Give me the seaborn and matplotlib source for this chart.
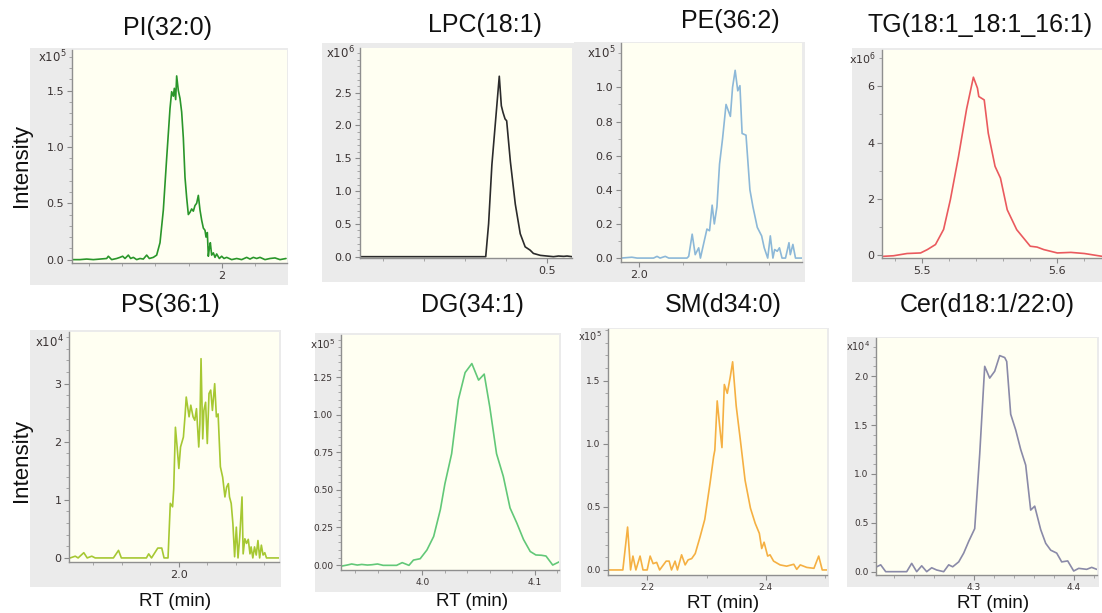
import numpy as np
import pandas as pd
import matplotlib
matplotlib.use("Agg")
import matplotlib.pyplot as plt
from matplotlib.ticker import MultipleLocator, FixedLocator, FormatStrFormatter
import seaborn as sns

# ---------------- data ----------------
titles = ["PI(32:0)", "LPC(18:1)", "PE(36:2)", "TG(18:1_18:1_16:1)",
          "PS(36:1)", "DG(34:1)", "SM(d34:0)", "Cer(d18:1/22:0)"]
exponents = [5, 6, 5, 6, 4, 5, 5, 4]

pi_rt = [1.549, 1.574, 1.594, 1.614, 1.634, 1.654, 1.659, 1.669, 1.684, 1.694, 1.702, 1.709,
         1.719, 1.726, 1.734, 1.744, 1.754, 1.764, 1.774, 1.782, 1.794, 1.804, 1.814, 1.824,
         1.834, 1.844, 1.849, 1.854, 1.857, 1.861, 1.864, 1.869, 1.874, 1.879, 1.884, 1.889,
         1.894, 1.899, 1.904, 1.909, 1.914, 1.919, 1.924, 1.929, 1.934, 1.939, 1.944, 1.949,
         1.952, 1.956, 1.959, 1.962, 1.965, 1.969, 1.974, 1.979, 1.984, 1.992, 1.999, 2.006,
         2.014, 2.029, 2.044, 2.059, 2.074, 2.084, 2.094, 2.104, 2.114, 2.129, 2.144, 2.159,
         2.174, 2.192]
pi_int = [0.0, 0.0, 0.005, 0.0, 0.005, 0.01, 0.03, 0.0, 0.01, 0.02, 0.03, 0.01,
          0.04, 0.01, 0.02, 0.0, 0.01, 0.005, 0.04, 0.01, 0.02, 0.04, 0.15, 0.44,
          0.90, 1.34, 1.49, 1.45, 1.52, 1.42, 1.63, 1.50, 1.43, 1.31, 1.08, 0.73,
          0.55, 0.40, 0.42, 0.45, 0.43, 0.48, 0.50, 0.57, 0.44, 0.35, 0.28, 0.26,
          0.20, 0.24, 0.03, 0.10, 0.15, 0.04, 0.06, 0.02, 0.05, 0.01, 0.03, 0.01,
          0.02, 0.0, 0.01, 0.0, 0.02, 0.005, 0.02, 0.01, 0.02, 0.0, 0.01, 0.015,
          0.0, 0.01]

lpc_rt = [0.045, 0.142, 0.264, 0.350, 0.351, 0.358, 0.366, 0.374, 0.378, 0.384, 0.389,
          0.393, 0.398, 0.402, 0.411, 0.423, 0.435, 0.447, 0.459, 0.467, 0.484, 0.500,
          0.516, 0.528, 0.541, 0.549, 0.561]
lpc_int = [0.0, 0.0, 0.0, 0.0, 0.0, 0.5, 1.4, 2.0, 2.3, 2.75, 2.3,
           2.2, 2.1, 2.07, 1.45, 0.8, 0.35, 0.15, 0.1, 0.05, 0.02, 0.01,
           0.0, 0.01, 0.005, 0.01, 0.0]

pe_rt = [1.958, 1.983, 1.995, 2.033, 2.041, 2.048, 2.060, 2.068, 2.110, 2.114, 2.122,
         2.129, 2.137, 2.141, 2.148, 2.156, 2.162, 2.168, 2.173, 2.179, 2.185, 2.192,
         2.200, 2.210, 2.215, 2.221, 2.227, 2.232, 2.237, 2.246, 2.255, 2.262, 2.272,
         2.282, 2.288, 2.296, 2.302, 2.308, 2.312, 2.318, 2.323, 2.329, 2.337, 2.345,
         2.348, 2.354, 2.360, 2.375]
pe_int = [0.0, 0.005, 0.0, 0.0, 0.01, 0.0, 0.01, 0.0, 0.0, 0.01, 0.14,
          0.02, 0.06, 0.0, 0.08, 0.17, 0.16, 0.31, 0.20, 0.30, 0.55, 0.70,
          0.90, 0.83, 1.00, 1.10, 0.98, 1.01, 0.73, 0.72, 0.40, 0.30, 0.18,
          0.13, 0.06, 0.0, 0.13, 0.0, 0.05, 0.04, 0.06, 0.0, 0.0, 0.09,
          0.02, 0.08, 0.0, 0.0]

tg_rt = [5.4716, 5.479, 5.489, 5.499, 5.504, 5.510, 5.516, 5.521, 5.527, 5.533, 5.538,
         5.541, 5.542, 5.546, 5.549, 5.554, 5.558, 5.563, 5.570, 5.580, 5.585, 5.590,
         5.600, 5.610, 5.620, 5.633]
tg_int = [-0.06, -0.04, 0.04, 0.06, 0.18, 0.36, 0.9, 1.96, 3.5, 5.2, 6.33,
          5.94, 5.64, 5.52, 4.33, 3.15, 2.73, 1.6, 0.89, 0.30, 0.27, 0.18,
          0.06, 0.08, 0.04, -0.06]

ps_rt = [1.809, 1.818, 1.823, 1.833, 1.839, 1.847, 1.853, 1.885, 1.894, 1.899, 1.943,
         1.947, 1.952, 1.963, 1.970, 1.974, 1.981, 1.985, 1.989, 1.991, 1.994, 1.997,
         2.000, 2.003, 2.008, 2.011, 2.013, 2.018, 2.021, 2.025, 2.028, 2.031, 2.035,
         2.037, 2.039, 2.042, 2.044, 2.047, 2.050, 2.053, 2.056, 2.059, 2.063, 2.066,
         2.069, 2.073, 2.077, 2.081, 2.084, 2.087, 2.089, 2.092, 2.095, 2.098, 2.101,
         2.104, 2.107, 2.111, 2.113, 2.116, 2.119, 2.122, 2.125, 2.127, 2.130, 2.133,
         2.136, 2.139, 2.142, 2.145, 2.148, 2.151, 2.154, 2.176]
ps_int = [0.0, 0.03, 0.0, 0.09, 0.0, 0.03, 0.0, 0.0, 0.13, 0.0, 0.0,
          0.07, 0.0, 0.17, 0.17, 0.0, 0.0, 0.94, 0.88, 1.19, 2.25, 1.91,
          1.54, 1.91, 2.08, 2.46, 2.77, 2.43, 2.63, 2.43, 2.37, 2.57, 1.91,
          2.31, 3.43, 2.05, 2.54, 2.68, 1.97, 2.83, 2.89, 2.54, 3.00, 2.43,
          2.48, 1.57, 1.39, 1.05, 1.22, 1.28, 1.05, 0.94, 0.59, 0.02, 0.53,
          0.0, 0.36, 1.05, 0.07, 0.33, 0.25, 0.32, 0.07, 0.19, 0.0, 0.19,
          0.05, 0.30, 0.0, 0.22, 0.05, 0.09, 0.0, 0.0]

dg_rt = [3.928, 3.933, 3.937, 3.942, 3.946, 3.951, 3.955, 3.960, 3.965, 3.971, 3.977,
         3.982, 3.988, 3.992, 3.998, 4.004, 4.010, 4.016, 4.020, 4.026, 4.032, 4.038,
         4.044, 4.050, 4.055, 4.060, 4.066, 4.072, 4.078, 4.084, 4.090, 4.096, 4.101,
         4.106, 4.110, 4.116, 4.122]
dg_int = [-0.007, 0.0, 0.007, 0.0, 0.004, 0.0, 0.002, 0.007, -0.002, -0.002, -0.002,
          0.016, -0.002, 0.033, 0.042, 0.10, 0.19, 0.37, 0.54, 0.74, 1.10, 1.28,
          1.34, 1.23, 1.27, 1.05, 0.74, 0.59, 0.38, 0.28, 0.17, 0.09, 0.067,
          0.065, 0.06, 0.0, 0.022]

sm_rt = [2.134, 2.159, 2.167, 2.172, 2.176, 2.181, 2.188, 2.193, 2.200, 2.205, 2.210,
         2.216, 2.221, 2.232, 2.237, 2.241, 2.247, 2.251, 2.258, 2.264, 2.269, 2.275,
         2.281, 2.289, 2.297, 2.306, 2.312, 2.314, 2.318, 2.323, 2.326, 2.330, 2.335,
         2.340, 2.344, 2.350, 2.357, 2.365, 2.374, 2.382, 2.389, 2.393, 2.397, 2.403,
         2.407, 2.413, 2.424, 2.435, 2.447, 2.452, 2.458, 2.469, 2.481, 2.489, 2.495,
         2.503]
sm_int = [0.0, 0.0, 0.34, 0.0, 0.11, 0.0, 0.11, 0.0, 0.0, 0.11, 0.05,
          0.06, 0.0, 0.07, 0.07, 0.0, 0.07, 0.0, 0.12, 0.04, 0.08, 0.09,
          0.13, 0.26, 0.40, 0.69, 0.90, 0.95, 1.34, 1.10, 0.97, 1.47, 1.40,
          1.53, 1.65, 1.30, 1.03, 0.71, 0.49, 0.37, 0.29, 0.17, 0.22, 0.11,
          0.12, 0.07, 0.04, 0.03, 0.045, 0.005, 0.04, 0.02, 0.013, 0.11, 0.0,
          0.0]

cer_rt = [4.203, 4.207, 4.212, 4.233, 4.238, 4.243, 4.248, 4.253, 4.258, 4.263, 4.270,
          4.275, 4.279, 4.285, 4.290, 4.295, 4.301, 4.306, 4.311, 4.316, 4.321, 4.326,
          4.331, 4.333, 4.337, 4.342, 4.347, 4.352, 4.357, 4.361, 4.367, 4.372, 4.377,
          4.383, 4.388, 4.394, 4.400, 4.405, 4.413, 4.418, 4.423]
cer_int = [0.05, 0.07, 0.0, 0.0, 0.085, 0.0, 0.06, 0.0, 0.04, 0.017, 0.0,
           0.07, 0.05, 0.10, 0.19, 0.31, 0.44, 1.20, 2.10, 1.98, 2.05, 2.21,
           2.19, 2.15, 1.61, 1.45, 1.25, 1.09, 0.63, 0.67, 0.43, 0.29, 0.22,
           0.19, 0.10, 0.11, 0.007, 0.034, 0.024, 0.044, 0.024]

series_rt = [pi_rt, lpc_rt, pe_rt, tg_rt, ps_rt, dg_rt, sm_rt, cer_rt]
series_int = [pi_int, lpc_int, pe_int, tg_int, ps_int, dg_int, sm_int, cer_int]
line_colors = ["#2a962a", "#2b2b2b", "#8cb8d8", "#ea5a5e",
               "#a6c832", "#62c878", "#f5b042", "#8a8aa8"]

# axis settings per panel
xlims = [(1.55, 2.195), (0.045, 0.561), (1.958, 2.375), (5.4705, 5.633),
         (1.807, 2.176), (3.9275, 4.1216), (2.134, 2.503), (4.2023, 4.4233)]
ylims = [(-0.03, 1.86), (-0.02, 3.18), (-0.023, 1.26), (-0.12, 7.3),
         (-0.07, 3.89), (-0.033, 1.53), (-0.04, 1.91), (-0.034, 2.39)]
x_major = [[2.0], [0.5], [2.0], [5.5, 5.6], [2.0], [4.0, 4.1], [2.2, 2.4], [4.3, 4.4]]
x_minor = [0.1, 0.1, 0.1, 0.02, 0.05, 0.02, 0.1, 0.02]
x_fmt = ["%d", "%.1f", "%.1f", "%.1f", "%.1f", "%.1f", "%.1f", "%.1f"]
y_major = [[0, 0.5, 1.0, 1.5], [0, 0.5, 1.0, 1.5, 2.0, 2.5], [0, 0.2, 0.4, 0.6, 0.8, 1.0],
           [0, 2, 4, 6], [0, 1, 2, 3], [0, 0.25, 0.5, 0.75, 1.0, 1.25],
           [0, 0.5, 1.0, 1.5], [0, 0.5, 1.0, 1.5, 2.0]]
y_minor = [0.1, 0.1, 0.1, 1.0, 0.2, 0.05, 0.1, 0.1]
y_fmt = ["%.1f", "%.1f", "%.1f", "%d", "%d", "%.2f", "%.1f", "%.1f"]
exp_level = [1.8, 3.1, 1.2, 7.0, 3.72, 1.47, 1.85, 2.31]
tick_fs = [8, 8, 8, 8, 8, 6.5, 6.5, 6.5]
exp_fs = [8.5, 8.5, 8.5, 8.0, 8.5, 7.5, 7.0, 7.0]

# layout in pixels (left, top, right, bottom)
W, H = 1102, 613
plot_px = [(72, 50, 287, 263), (360, 48, 572, 258), (621, 43, 802, 262), (882, 50, 1102, 258),
           (69, 332, 279, 562), (341, 335, 559, 570), (608, 329, 827, 575), (876, 338, 1097, 575)]
gray_px = [(30, 48, 288, 285), (322, 43, 574, 282), (574, 42, 805, 282), (852, 48, 1102, 282),
           (30, 330, 281, 587), (315, 333, 561, 592), (581, 328, 829, 587), (847, 337, 1099, 587)]
title_px = [(167, 28), (485, 25), (730, 21), (980, 25),
            (170, 305), (472, 305), (723, 305), (987, 305)]
rt_px = [(175, 602), (472, 602), (723, 604), (993, 604)]
intensity_px = [(21, 165), (21, 461)]

# ---------------- drawing ----------------
sns.set_theme(style="ticks")
plt.rcParams['font.family'] = ['Liberation Sans', 'DejaVu Sans']
plt.rcParams['mathtext.fontset'] = 'dejavusans'

fig = plt.figure(figsize=(W / 100, H / 100), dpi=100)
fig.patch.set_facecolor("white")


def frac_rect(box):
    l, t, r, b = box
    return [l / W, 1 - b / H, (r - l) / W, (b - t) / H]


for i in range(8):
    # gray frame of the screenshot, drawn as a bare background axes
    bg = fig.add_axes(frac_rect(gray_px[i]), zorder=0)
    bg.set_facecolor("#ebebeb")
    bg.set_xticks([])
    bg.set_yticks([])
    for s in bg.spines.values():
        s.set_visible(False)

    ax = fig.add_axes(frac_rect(plot_px[i]), zorder=1)
    ax.set_facecolor("#fffff2")
    df = pd.DataFrame({"RT": series_rt[i], "Intensity": series_int[i]})
    sns.lineplot(data=df, x="RT", y="Intensity", ax=ax, color=line_colors[i],
                 linewidth=1.2, sort=False, estimator=None)
    ax.set_xlim(*xlims[i])
    ax.set_ylim(*ylims[i])
    ax.set_xlabel("")
    ax.set_ylabel("")
    for s in ["top", "right"]:
        ax.spines[s].set_visible(False)
    for s in ["left", "bottom"]:
        ax.spines[s].set_color("#8f8f8f")
        ax.spines[s].set_linewidth(1.0)
    ax.xaxis.set_major_locator(FixedLocator(x_major[i]))
    ax.xaxis.set_minor_locator(MultipleLocator(x_minor[i]))
    ax.yaxis.set_major_locator(FixedLocator(y_major[i]))
    ax.yaxis.set_minor_locator(MultipleLocator(y_minor[i]))
    ax.xaxis.set_major_formatter(FormatStrFormatter(x_fmt[i]))
    ax.yaxis.set_major_formatter(FormatStrFormatter(y_fmt[i]))
    ax.tick_params(axis="both", which="major", direction="out", length=3.5, width=0.8,
                   color="#8a8a8a", labelsize=tick_fs[i], labelcolor="#3a3333", pad=2,
                   bottom=True, left=True)
    ax.tick_params(axis="both", which="minor", direction="out", length=2, width=0.6,
                   color="#9a9a9a", bottom=True, left=True)
    for lab in ax.get_xticklabels() + ax.get_yticklabels():
        lab.set_family("DejaVu Sans")
    ax.annotate(r"x10$^{%d}$" % exponents[i], xy=(0, exp_level[i]),
                xycoords=ax.get_yaxis_transform(), xytext=(-4, 0),
                textcoords="offset points", ha="right", va="center",
                fontsize=exp_fs[i], color="#3a3333", family="DejaVu Sans",
                annotation_clip=False)
    tx, ty = title_px[i]
    fig.text(tx / W, 1 - ty / H, titles[i], ha="center", va="center",
             fontsize=18, color="#111111")

for (x, y) in rt_px:
    fig.text(x / W, 1 - y / H, "RT (min)", ha="center", va="center",
             fontsize=13.5, color="#111111")
for (x, y) in intensity_px:
    fig.text(x / W, 1 - y / H, "Intensity", ha="center", va="center",
             rotation=90, fontsize=16, color="#111111")

fig.savefig("out.png", dpi=100, facecolor="white")
